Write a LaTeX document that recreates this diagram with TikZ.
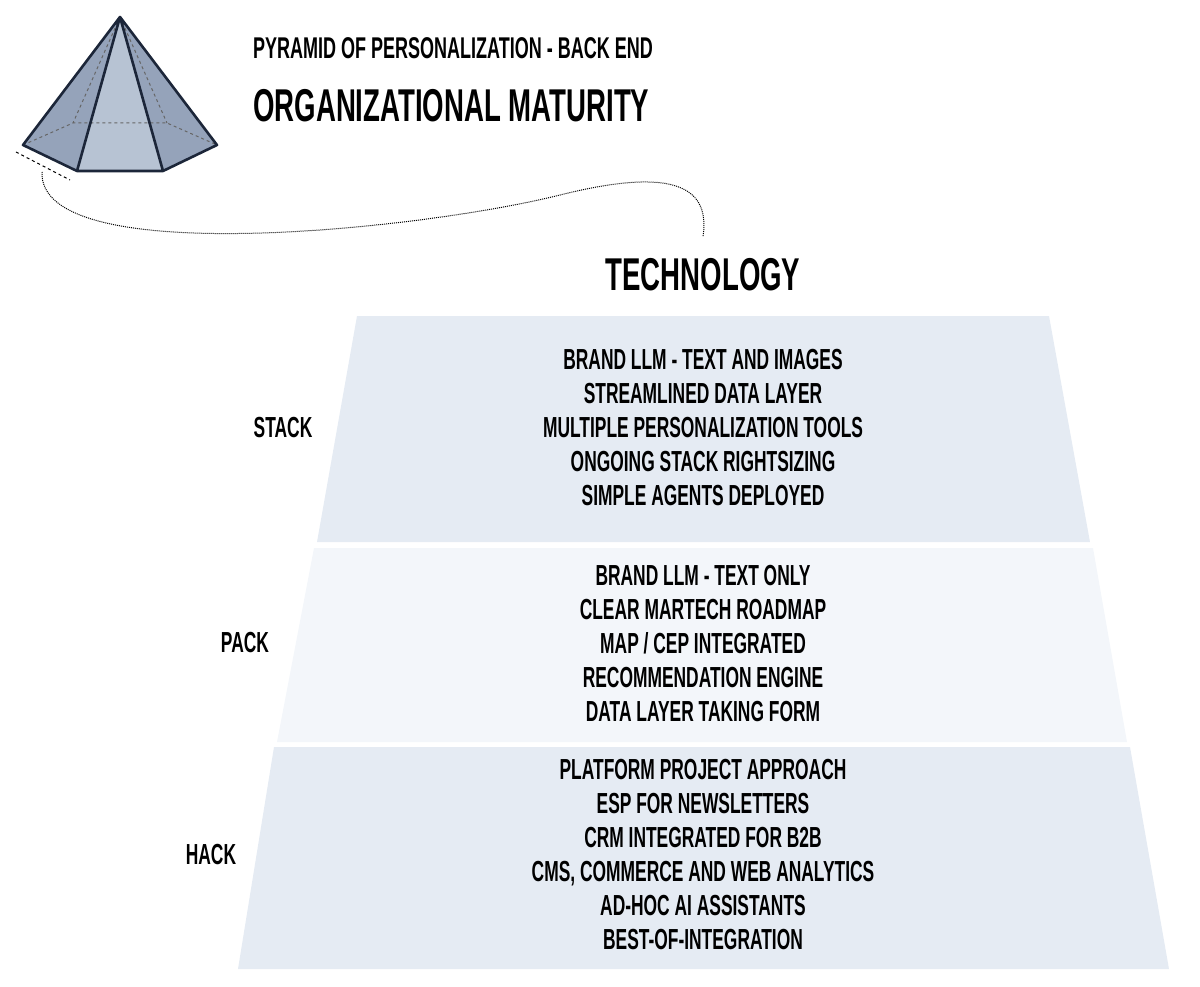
\documentclass[tikz,border=0pt]{standalone}
\usepackage{fontspec}
\setmainfont{Liberation Sans}[BoldFont={Liberation Sans Bold},BoldFeatures={FakeStretch=0.6}]
\begin{document}
\begin{tikzpicture}[x=1pt,y=-1pt,
  item/.style={font=\fontsize{29}{34}\selectfont\bfseries,align=center,inner sep=0pt},
  lab/.style={font=\fontsize{29}{34}\selectfont\bfseries,inner sep=0pt},
  edge/.style={draw=black!85!blue,line width=2.6pt,line join=round},
  hid/.style={draw=black!60,dashed,line width=1pt}]
\useasboundingbox (0,0) rectangle (1200,987);
\definecolor{bandA}{HTML}{E5EBF3}\definecolor{bandB}{HTML}{F3F6FA}
\definecolor{pyrA}{HTML}{95A3BA}\definecolor{pyrB}{HTML}{B7C3D3}\definecolor{edgec}{HTML}{1C2639}
% bands
\fill[bandA] (357,316)--(1049,316)--(1090,542)--(317,542)--cycle;
\fill[bandB] (314,548)--(1093,548)--(1127,742)--(277,742)--cycle;
\fill[bandA] (274,747)--(1130,747)--(1169,969)--(238,969)--cycle;
% pyramid
\coordinate (ap) at (120,17);
\coordinate (bl) at (23,145); \coordinate (fl) at (77,171);
\coordinate (fr) at (163,171); \coordinate (br) at (217,145);
\coordinate (hl) at (73,123); \coordinate (hr) at (167,123);
\fill[pyrA] (ap)--(bl)--(fl)--(fr)--(br)--cycle;
\fill[pyrB] (ap)--(fl)--(fr)--cycle;
\draw[hid] (bl)--(hl)--(hr)--(br) (ap)--(hl) (ap)--(hr);
\draw[edge,draw=edgec] (ap)--(bl)--(fl)--(fr)--(br)--cycle (ap)--(fl) (ap)--(fr);
\draw[dashed,line width=1pt] (16,152)--(70,180);
\coordinate (cs) at (42,172); \coordinate (ce) at (703,237);
\draw[densely dotted,line width=1pt] (cs) .. controls (38,270) and (420,230) .. (560,195) .. controls (680,165) and (710,190) .. (ce);
% titles
\node[lab,anchor=west,font=\fontsize{30}{34}\selectfont\bfseries] (t1) at (253,48) {PYRAMID OF PERSONALIZATION - BACK END};
\node[lab,anchor=west,font=\fontsize{46}{50}\selectfont\bfseries] (t2) at (253,106) {ORGANIZATIONAL MATURITY};
\node[lab,font=\fontsize{46}{50}\selectfont\bfseries] (tech) at (703,275) {TECHNOLOGY};
% labels
\node[lab] (stack) at (283,428) {STACK};
\node[lab] (pack) at (245,643) {PACK};
\node[lab] (hack) at (211,855) {HACK};
% items
\node[item] (s) at (703,428) {BRAND LLM - TEXT AND IMAGES\\STREAMLINED DATA LAYER\\MULTIPLE PERSONALIZATION TOOLS\\ONGOING STACK RIGHTSIZING\\SIMPLE AGENTS DEPLOYED};
\node[item] (p) at (703,644) {BRAND LLM - TEXT ONLY\\CLEAR MARTECH ROADMAP\\MAP / CEP INTEGRATED\\RECOMMENDATION ENGINE\\DATA LAYER TAKING FORM};
\node[item] (h) at (703,855) {PLATFORM PROJECT APPROACH\\ESP FOR NEWSLETTERS\\CRM INTEGRATED FOR B2B\\CMS, COMMERCE AND WEB ANALYTICS\\AD-HOC AI ASSISTANTS\\BEST-OF-INTEGRATION};
\end{tikzpicture}
\end{document}
